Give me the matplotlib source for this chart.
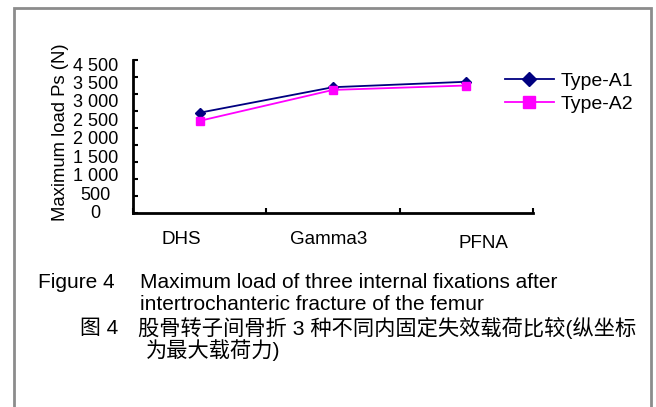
import numpy as np
import matplotlib
matplotlib.use("Agg")
import matplotlib.pyplot as plt
import matplotlib.transforms as mtransforms
from matplotlib.patches import Rectangle

plt.rcParams['font.family'] = ['Liberation Sans', 'Noto Sans CJK SC', 'DejaVu Sans']

categories = ["DHS", "Gamma3", "PFNA"]
type_a1 = [2950, 3700, 3860]
type_a2 = [2710, 3620, 3750]
series_names = ["Type-A1", "Type-A2"]
ytick_labels = ["0", "500", "1 000", "1 500", "2 000", "2 500", "3 000", "3 500", "4 500"]
ylabel = "Maximum load Ps (N)"
caption_en = ["Figure 4", "Maximum load of three internal fixations after",
              "intertrochanteric fracture of the femur"]
caption_cn = ["图 4", "股骨转子间骨折 3 种不同内固定失效载荷比较(纵坐标", "为最大载荷力)"]

W, H = 656, 407
fig = plt.figure(figsize=(W / 100, H / 100), dpi=100)


def fx(px):
    return px / W


def fy(py):
    return 1 - py / H


# grey frame around the figure (bottom edge runs off the picture)
fig.patches.append(Rectangle((fx(14), fy(420)), fx(651) - fx(14), fy(8) - fy(420),
                             transform=fig.transFigure, fill=False,
                             edgecolor="#8c8c8c", linewidth=2))

ax = fig.add_axes([fx(133), fy(213), fx(533) - fx(133), fy(60) - fy(213)])
x = np.arange(len(categories))
ax.plot(x, type_a1, color="#000080", marker="D", markersize=5, linewidth=1.3,
        label=series_names[0])
ax.plot(x, type_a2, color="#ff00ff", marker="s", markersize=6, linewidth=1.3,
        label=series_names[1])

ax.set_xlim(-0.5, 2.5)
ax.set_ylim(0, 4500)
for s in ["top", "right"]:
    ax.spines[s].set_visible(False)
for s in ["left", "bottom"]:
    ax.spines[s].set_linewidth(2)

# tick marks: every 500 on y, between categories on x
ax.set_yticks(np.arange(0, 4501, 500), minor=True)
ax.set_xticks(np.arange(-0.5, 2.6, 1.0), minor=True)
ax.tick_params(which="minor", direction="in", length=3.5, width=1.5, labelleft=False,
               labelbottom=False)

# labels (the original labels don't line up with the ticks)
ax.set_yticks(np.linspace(40, 4380, len(ytick_labels)))
ax.set_yticklabels(ytick_labels, ha="center")
ax.set_xticks(x)
ax.set_xticklabels(categories)
ax.tick_params(axis="y", which="major", length=0, pad=27, labelsize=13)
ax.tick_params(axis="x", which="major", length=0, pad=13, labelsize=13.5)
offsets = [(-18, 0), (-4, 0), (17, -4)]
for lab, (dx, dy) in zip(ax.get_xticklabels(), offsets):
    lab.set_transform(lab.get_transform() +
                      mtransforms.ScaledTranslation(dx / 100, dy / 100, fig.dpi_scale_trans))

ax.set_ylabel(ylabel, fontsize=13.3)
ax.yaxis.set_label_coords(-0.16, 0.53)

fig.legend(loc="upper left", bbox_to_anchor=(fx(505), fy(72)), frameon=False,
           fontsize=14, handlelength=2.5, handletextpad=0.36, labelspacing=0.3,
           borderpad=0, borderaxespad=0, markerscale=1.4)

# caption
fs = 15
fig.text(fx(38), fy(283), caption_en[0], fontsize=fs, va="center")
fig.text(fx(140), fy(283), caption_en[1], fontsize=fs, va="center")
fig.text(fx(140), fy(304), caption_en[2], fontsize=fs, va="center")
fig.text(fx(80), fy(328), caption_cn[0], fontsize=fs, va="center")
fig.text(fx(138), fy(328), caption_cn[1], fontsize=15.3, va="center")
fig.text(fx(146), fy(350), caption_cn[2], fontsize=15.3, va="center")

fig.savefig("out.png", dpi=100)
